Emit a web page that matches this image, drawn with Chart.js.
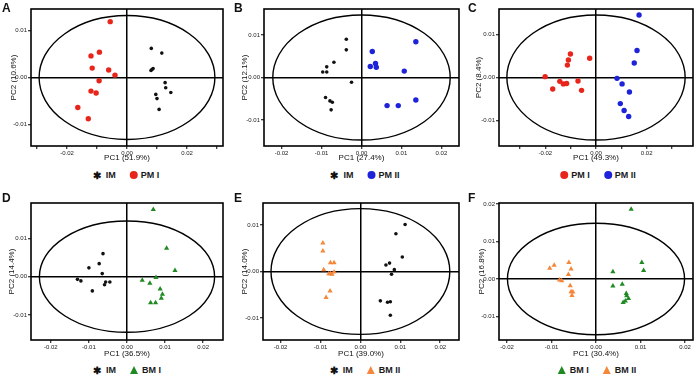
<!DOCTYPE html>
<html>
<head>
<meta charset="utf-8">
<script src="https://cdn.jsdelivr.net/npm/chart.js@4.4.1/dist/chart.umd.min.js"></script>
<style>
  body { margin: 0; background: #fff; width: 698px; height: 376px; position: relative; overflow: hidden;
         font-family: "Liberation Sans", Arial, sans-serif; }
  canvas { position: absolute; }
  .letter { position: absolute; font-weight: bold; font-size: 12px; line-height: 12px; color: #111; }
  .legend { position: absolute; display: flex; align-items: center; font-weight: bold; font-size: 9px;
            line-height: 10px; white-space: nowrap; transform: translate(-50%, -50%); color: #1a1a1a; }
  .item { display: flex; align-items: center; margin: 0 7px; }
  .dot { width: 8px; height: 8px; border-radius: 50%; margin-right: 3px; }
  .tri { width: 0; height: 0; border-left: 4.5px solid transparent; border-right: 4.5px solid transparent;
         border-bottom: 8px solid; margin-right: 4px; }
  .star { font-size: 10px; margin-right: 5px; position: relative; top: 1px; }
</style>
</head>
<body>
<script>
// PCA score plots: [PC1, PC2] for each sample
const scoresA_IM  = [[0.0081,0.0062],[0.0116,0.0052],[0.0087,0.0019],[0.0080,0.0015],[0.0083,0.0017],[0.0127,-0.0011],[0.0129,-0.0022],[0.0146,-0.0032],[0.0096,-0.0036],[0.0100,-0.0045],[0.0107,-0.0068]];
const scoresA_PM1 = [[-0.0056,0.0119],[-0.0092,0.0054],[-0.0120,0.0046],[-0.0116,0.0020],[-0.0061,0.0016],[-0.0040,0.0005],[-0.0093,-0.0007],[-0.0120,-0.0029],[-0.0103,-0.0033],[-0.0164,-0.0064],[-0.0129,-0.0088]];

const scoresB_IM  = [[-0.0038,0.0090],[-0.0038,0.0065],[-0.0069,0.0036],[-0.0087,0.0025],[-0.0097,0.0013],[-0.0087,0.0013],[-0.0025,-0.0011],[-0.0090,-0.0047],[-0.0079,-0.0055],[-0.0073,-0.0058],[-0.0076,-0.0076]];
const scoresB_PM2 = [[0.0136,0.0084],[0.0027,0.0061],[0.0035,0.0033],[0.0022,0.0026],[0.0037,0.0024],[0.0107,0.0015],[0.0136,-0.0053],[0.0064,-0.0066],[0.0092,-0.0066]];

const scoresC_PM1 = [[-0.0101,0.0055],[-0.0109,0.0041],[-0.0113,0.0029],[-0.0025,0.0045],[-0.0201,0.0002],[-0.0143,-0.0009],[-0.0129,-0.0015],[-0.0116,-0.0014],[-0.0071,-0.0008],[-0.0171,-0.0027],[-0.0057,-0.0030]];
const scoresC_PM2 = [[0.0170,0.0146],[0.0162,0.0063],[0.0151,0.0034],[0.0083,-0.0002],[0.0103,-0.0015],[0.0132,-0.0034],[0.0096,-0.0061],[0.0111,-0.0077],[0.0129,-0.0091]];

const scoresD_IM  = [[-0.0063,0.0060],[-0.0073,0.0034],[-0.0100,0.0023],[-0.0065,0.0008],[-0.0130,-0.0007],[-0.0121,-0.0011],[-0.0056,-0.0014],[-0.0045,-0.0014],[-0.0059,-0.0021],[-0.0091,-0.0037]];
const scoresD_BM1 = [[0.0069,0.0175],[0.0104,0.0074],[0.0126,0.0016],[0.0076,-0.0002],[0.0040,-0.0009],[0.0060,-0.0017],[0.0087,-0.0032],[0.0093,-0.0046],[0.0090,-0.0056],[0.0062,-0.0068],[0.0075,-0.0068]];

const scoresE_IM  = [[0.0112,0.0101],[0.0089,0.0081],[0.0105,0.0031],[0.0073,0.0018],[0.0064,0.0014],[0.0085,0.0004],[0.0078,-0.0006],[0.0050,-0.0063],[0.0068,-0.0066],[0.0075,-0.0065],[0.0075,-0.0094]];
const scoresE_BM2 = [[-0.0094,0.0061],[-0.0094,0.0044],[-0.0075,0.0019],[-0.0066,0.0019],[-0.0092,0.0004],[-0.0079,-0.0005],[-0.0075,-0.0005],[-0.0071,-0.0006],[-0.0066,-0.0001],[-0.0076,-0.0042],[-0.0086,-0.0056]];

const scoresF_BM1 = [[0.0079,0.0186],[0.0103,0.0044],[0.0107,0.0023],[0.0038,0.0019],[0.0038,-0.0019],[0.0059,-0.0014],[0.0068,-0.0039],[0.0069,-0.0045],[0.0073,-0.0052],[0.0066,-0.0059],[0.0061,-0.0063]];
const scoresF_BM2 = [[-0.0104,0.0029],[-0.0094,0.0037],[-0.0061,0.0044],[-0.0056,0.0027],[-0.0062,0.0012],[-0.0082,-0.0003],[-0.0077,-0.0005],[-0.0058,-0.0018],[-0.0056,-0.0034],[-0.0052,-0.0035],[-0.0054,-0.0044]];

// Hotelling ellipse half-widths [PC1, PC2]
const ellipseA = [0.0293, 0.0132];
const ellipseB = [0.0222, 0.0147];
const ellipseC = [0.0352, 0.0146];
const ellipseD = [0.0230, 0.0145];
const ellipseE = [0.0224, 0.0135];
const ellipseF = [0.0199, 0.0149];

// explained variance (%)
const pc1Var = ['51.9', '27.4', '49.3', '36.5', '39.0', '30.4'];
const pc2Var = ['10.6', '12.1', '8.4', '14.4', '14.0', '16.8'];

// axis ticks
const ticksWide   = [-0.03, -0.02, -0.01, 0, 0.01, 0.02, 0.03];
const ticksNarrow = [-0.02, -0.01, 0, 0.01, 0.02];
const ticksY      = [-0.01, 0, 0.01];
const ticksYTall  = [-0.01, 0, 0.01, 0.02];

const groupStyle = {
  'IM':    { color: '#111111', shape: 'circle', r: 1.8, mark: 'star' },
  'PM I':  { color: '#e8251b', shape: 'circle', r: 2.7, mark: 'dot' },
  'PM II': { color: '#1e22d8', shape: 'circle', r: 2.7, mark: 'dot' },
  'BM I':  { color: '#1f8a22', shape: 'triangle', r: 3.0, mark: 'tri' },
  'BM II': { color: '#f5873a', shape: 'triangle', r: 3.0, mark: 'tri' }
};

const panels = [
  { letter: 'A', left: 0,   top: 0,   w: 228, h: 163, area: [31, 9, 223, 146],  xr: [-0.032, 0.032],   yr: [-0.0146, 0.0146],
    xt: ticksWide, yt: ticksY, evenOnly: true, ell: ellipseA, groups: [['IM', scoresA_IM], ['PM I', scoresA_PM1]], ytPad: 8.5, legX: 126, legY: 174.5 },
  { letter: 'B', left: 232, top: 0,   w: 232, h: 163, area: [264, 9, 459, 146], xr: [-0.0244, 0.0244], yr: [-0.0161, 0.0161],
    xt: ticksNarrow, yt: ticksY, ell: ellipseB, groups: [['IM', scoresB_IM], ['PM II', scoresB_PM2]], ytPad: 7.5, legX: 365, legY: 174.5 },
  { letter: 'C', left: 466, top: 0,   w: 232, h: 163, area: [499, 9, 693, 146], xr: [-0.0383, 0.0383], yr: [-0.016, 0.016],
    xt: ticksWide, yt: ticksY, evenOnly: true, ell: ellipseC, groups: [['PM I', scoresC_PM1], ['PM II', scoresC_PM2]], ytPad: 7.5, legX: 598, legY: 174.5 },
  { letter: 'D', left: 0,   top: 190, w: 228, h: 169, area: [31, 203, 223, 340], xr: [-0.0252, 0.0252], yr: [-0.0165, 0.0192],
    xt: ticksNarrow, yt: ticksY, ell: ellipseD, groups: [['IM', scoresD_IM], ['BM I', scoresD_BM1]], ytPad: 7, legX: 127, legY: 370 },
  { letter: 'E', left: 232, top: 190, w: 232, h: 169, area: [263, 203, 459, 340], xr: [-0.0244, 0.0247], yr: [-0.0147, 0.0147],
    xt: ticksNarrow, yt: ticksY, ell: ellipseE, groups: [['IM', scoresE_IM], ['BM II', scoresE_BM2]], ytPad: 7.5, legX: 365, legY: 370 },
  { letter: 'F', left: 466, top: 190, w: 232, h: 169, area: [499, 203, 693, 340], xr: [-0.0218, 0.0218], yr: [-0.0163, 0.0203],
    xt: ticksNarrow, yt: ticksYTall, ell: ellipseF, groups: [['BM I', scoresF_BM1], ['BM II', scoresF_BM2]], ytPad: 10.5, legX: 597, legY: 370 }
];

// ellipse + frame, drawn under the points
const framePlugin = {
  id: 'frame',
  beforeDatasetsDraw(chart, args, opts) {
    const { ctx, chartArea: a, scales: { x, y } } = chart;
    const cx = x.getPixelForValue(0), cy = y.getPixelForValue(0);
    ctx.save();
    ctx.strokeStyle = '#000';
    ctx.lineWidth = 1.4;
    ctx.beginPath();
    ctx.ellipse(cx, cy, x.getPixelForValue(opts.radii[0]) - cx, cy - y.getPixelForValue(opts.radii[1]), 0, 0, Math.PI * 2);
    ctx.stroke();
    ctx.lineWidth = 1.6;
    ctx.strokeRect(a.left, a.top, a.right - a.left, a.bottom - a.top);
    ctx.restore();
  }
};

function makeAxis(range, ticks, titleText, titlePad, size, isX, evenOnly) {
  return {
    type: 'linear',
    position: isX ? 'bottom' : 'left',
    min: range[0],
    max: range[1],
    afterBuildTicks: s => { s.ticks = ticks.map(v => ({ value: v })); },
    afterFit: s => { if (isX) s.height = size; else s.width = size; },
    grid: {
      color: c => (c.tick && Math.abs(c.tick.value) < 1e-9) ? '#000' : 'rgba(0,0,0,0)',
      lineWidth: 1.5,
      drawTicks: true,
      tickLength: 3,
      tickColor: '#000',
      tickWidth: 1
    },
    border: { display: false },
    ticks: {
      color: '#222',
      font: { size: 6, family: 'Liberation Sans' },
      padding: 1,
      maxRotation: 0,
      autoSkip: false,
      callback: v => {
        if (evenOnly && Math.round(Math.abs(v) * 100) % 2 === 1) return '';
        return (Math.abs(v) < 1e-9 ? 0 : v).toFixed(2);
      }
    },
    title: {
      display: true,
      text: titleText,
      color: '#111',
      font: { size: 8, family: 'Liberation Sans' },
      padding: isX ? { top: 0, bottom: 0 } : { top: titlePad, bottom: 0 }
    }
  };
}

panels.forEach((p, i) => {
  const canvas = document.createElement('canvas');
  canvas.width = p.w;
  canvas.height = p.h;
  canvas.style.left = p.left + 'px';
  canvas.style.top = p.top + 'px';
  document.body.appendChild(canvas);

  const datasets = p.groups.map(([name, pts]) => {
    const st = groupStyle[name];
    return {
      label: name,
      data: pts.map(([x, y]) => ({ x, y })),
      pointStyle: st.shape,
      pointRadius: st.r,
      backgroundColor: st.color,
      borderColor: st.color,
      borderWidth: 0
    };
  });

  new Chart(canvas, {
    type: 'scatter',
    data: { datasets },
    options: {
      responsive: false,
      animation: false,
      devicePixelRatio: 1,
      layout: { padding: { top: p.area[1] - p.top, right: p.left + p.w - p.area[2], left: 0, bottom: 0 } },
      plugins: { legend: { display: false }, tooltip: { enabled: false }, frame: { radii: p.ell } },
      scales: {
        x: makeAxis(p.xr, p.xt, 'PC1 (' + pc1Var[i] + '%)', 0, p.top + p.h - p.area[3], true, p.evenOnly),
        y: makeAxis(p.yr, p.yt, 'PC2 (' + pc2Var[i] + '%)', p.ytPad, p.area[0] - p.left, false, false)
      }
    },
    plugins: [framePlugin]
  });

  const letter = document.createElement('div');
  letter.className = 'letter';
  letter.textContent = p.letter;
  letter.style.left = (p.left + 2) + 'px';
  letter.style.top = (p.top + 2) + 'px';
  document.body.appendChild(letter);

  const legend = document.createElement('div');
  legend.className = 'legend';
  legend.style.left = p.legX + 'px';
  legend.style.top = p.legY + 'px';
  p.groups.forEach(([name]) => {
    const st = groupStyle[name];
    const item = document.createElement('div');
    item.className = 'item';
    const mk = document.createElement('span');
    if (st.mark === 'star') { mk.className = 'star'; mk.textContent = '✱'; mk.style.color = st.color; }
    else if (st.mark === 'dot') { mk.className = 'dot'; mk.style.background = st.color; }
    else { mk.className = 'tri'; mk.style.borderBottomColor = st.color; }
    const label = document.createElement('span');
    label.textContent = name;
    item.appendChild(mk);
    item.appendChild(label);
    legend.appendChild(item);
  });
  document.body.appendChild(legend);
});
</script>
</body>
</html>
